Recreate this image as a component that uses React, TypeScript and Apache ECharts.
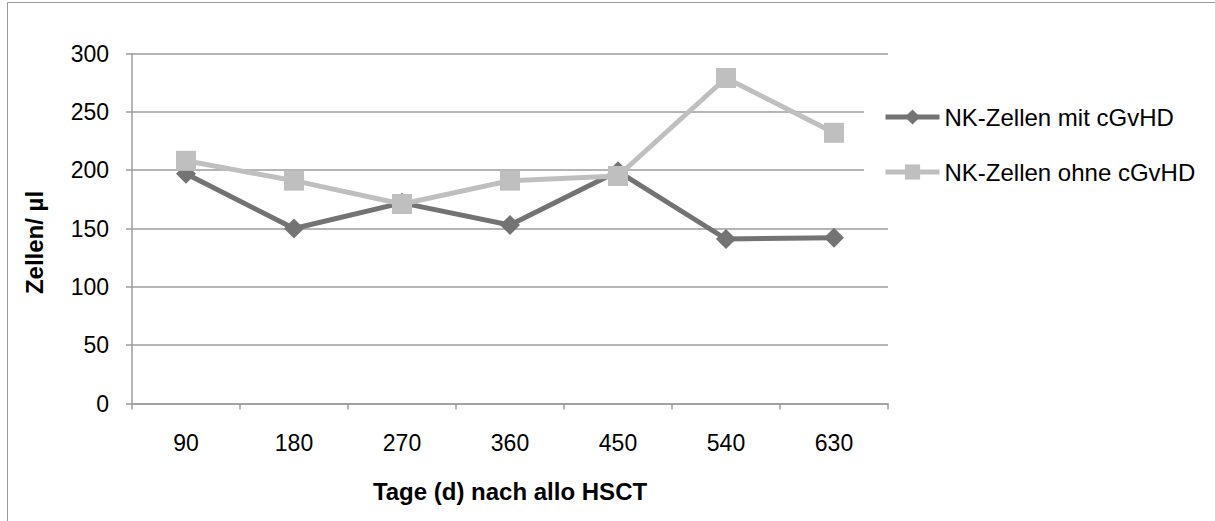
import React, { useEffect, useRef } from "react";
import * as echarts from "echarts";

const categories = ["90", "180", "270", "360", "450", "540", "630"];
const mitCgvhd = [197, 150, 172, 153, 199, 141, 142];
const ohneCgvhd = [208, 191, 171, 191, 195, 279, 232];
const seriesNames = ["NK-Zellen mit cGvHD", "NK-Zellen ohne cGvHD"];

const FONT = "Liberation Sans, Arial, sans-serif";
const AXIS_GRAY = "#9c9c9c";

export default function App() {
  const ref = useRef<HTMLDivElement>(null);
  useEffect(() => {
    if (!ref.current) return;
    const chart = echarts.init(ref.current, null, { renderer: "svg" });
    chart.setOption({
      animation: false,
      backgroundColor: "#ffffff",
      textStyle: { fontFamily: FONT },
      graphic: [
        {
          type: "rect",
          shape: { x: 7.5, y: 2.5, width: 1230, height: 540 },
          style: { fill: "none", stroke: "#999999", lineWidth: 1 },
          z: 0,
        },
      ],
      grid: { left: 132, right: 327, top: 53.5, bottom: 117.5, containLabel: false },
      legend: {
        orient: "vertical",
        left: 864,
        top: 97,
        itemWidth: 54,
        itemHeight: 19,
        itemGap: 31,
        padding: [8, 6, 8, 19],
        backgroundColor: "#ffffff",
        lineStyle: { width: 5 },
        textStyle: { fontFamily: FONT, fontSize: 24, lineHeight: 24, color: "#000000" },
        data: seriesNames,
      },
      xAxis: {
        type: "category",
        data: categories,
        boundaryGap: true,
        name: "Tage (d) nach allo HSCT",
        nameLocation: "middle",
        nameGap: 76,
        nameTextStyle: { fontFamily: FONT, fontSize: 24, fontWeight: "bold", color: "#000000" },
        axisLine: { lineStyle: { color: AXIS_GRAY, width: 1.5 } },
        axisTick: { show: true, length: 6, alignWithLabel: false, lineStyle: { color: AXIS_GRAY, width: 1.5 } },
        axisLabel: { fontFamily: FONT, fontSize: 23, lineHeight: 23, color: "#000000", margin: 28 },
      },
      yAxis: {
        type: "value",
        min: 0,
        max: 300,
        interval: 50,
        name: "Zellen/ µl",
        nameLocation: "middle",
        nameGap: 86,
        nameRotate: 90,
        nameTextStyle: {
          fontFamily: FONT,
          fontSize: 24,
          fontWeight: "bold",
          color: "#000000",
          padding: [0, 28, 0, 0],
        },
        axisLine: { show: true, lineStyle: { color: AXIS_GRAY, width: 1.5 } },
        axisTick: { show: true, length: 6, lineStyle: { color: AXIS_GRAY, width: 1.5 } },
        axisLabel: { fontFamily: FONT, fontSize: 23, color: "#000000", margin: 23 },
        splitLine: { show: true, lineStyle: { color: AXIS_GRAY, width: 1.5 } },
      },
      series: [
        {
          name: seriesNames[0],
          type: "line",
          data: mitCgvhd,
          symbol: "diamond",
          symbolSize: 20,
          lineStyle: { color: "#737373", width: 5 },
          itemStyle: { color: "#737373" },
          z: 3,
        },
        {
          name: seriesNames[1],
          type: "line",
          data: ohneCgvhd,
          symbol: "rect",
          symbolSize: 20,
          lineStyle: { color: "#bfbfbf", width: 5 },
          itemStyle: { color: "#bfbfbf" },
          z: 4,
        },
      ],
    });
    return () => chart.dispose();
  }, []);
  return (
    <div
      ref={ref}
      style={{ position: "fixed", left: 0, top: 0, width: 1215, height: 521 }}
    />
  );
}
